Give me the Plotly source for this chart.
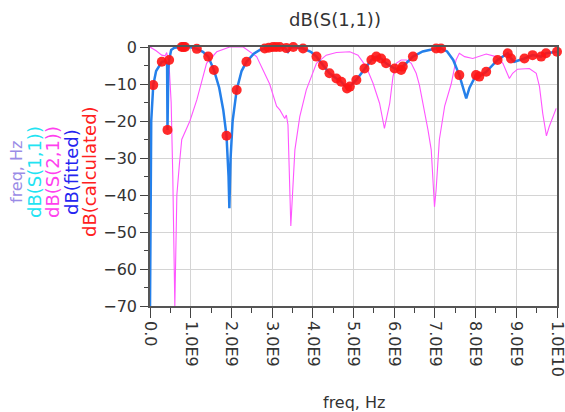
import plotly.graph_objects as go

# Frequencies in GHz (converted to Hz for the axis)
fit_f = [0.0, 0.01, 0.03, 0.08, 0.15, 0.29, 0.38, 0.42, 0.43, 0.45, 0.47, 0.52, 0.6, 0.78, 0.86, 1.0,
         1.15, 1.3, 1.43, 1.57, 1.7, 1.8, 1.88, 1.93, 1.95, 1.98, 2.03, 2.13, 2.25, 2.37, 2.55, 2.7,
         2.82, 3.02, 3.19, 3.32, 3.39, 3.45, 3.52, 3.76, 3.95, 4.09, 4.25, 4.41, 4.58, 4.70, 4.84,
         4.91, 5.07, 5.27, 5.44, 5.56, 5.68, 5.80, 6.01, 6.17, 6.21, 6.46, 6.7, 7.03, 7.15, 7.3,
         7.45, 7.6, 7.7, 7.77, 7.85, 8.01, 8.09, 8.26, 8.54, 8.79, 8.87, 8.95, 9.2, 9.4, 9.61, 9.73, 10.0]
fit_db = [-70, -40, -20, -10.3, -6.5, -4.0, -3.8, -4.5, -22.4, -6, -3.5, -0.8, -0.2, 0, 0, -0.1,
          -0.5, -1.3, -2.6, -6.2, -11, -17, -24, -35, -43.6, -30, -20, -11.6, -6.5, -4.0, -1.8, -0.8,
          -0.4, 0, 0, -0.3, -1.3, -0.3, 0, -0.4, -1.3, -2.6, -4.9, -7.1, -8.5, -9.4, -11.2,
          -10.7, -8.9, -5.8, -3.5, -2.6, -3.1, -4.4, -5.8, -6.2, -5.3, -2.6, -1.2, -0.4, -0.4, -1.2,
          -3.5, -7.6, -11, -13.9, -11, -7.6, -8.0, -6.7, -3.5, -1.7, -3.1, -4.0, -3.1, -2.2, -2.6, -1.7, -1.3]

calc_f = [0.08, 0.29, 0.43, 0.47, 0.78, 0.82, 0.86, 1.15, 1.43, 1.57, 1.88, 2.13, 2.37, 2.82, 2.92,
          3.02, 3.1, 3.19, 3.35, 3.52, 3.76, 4.09, 4.25, 4.41, 4.58, 4.70, 4.84, 4.91, 5.07, 5.27,
          5.44, 5.56, 5.68, 5.80, 6.01, 6.17, 6.21, 6.46, 7.03, 7.15, 7.6, 8.01, 8.09, 8.26, 8.54,
          8.79, 8.87, 9.2, 9.4, 9.61, 9.73, 10.0]
calc_db = [-10.3, -4.0, -22.4, -3.5, 0, 0, 0, -0.5, -2.6, -6.2, -24, -11.6, -4.0, -0.4, -0.2,
           0, 0, 0, -0.3, 0, -0.4, -2.6, -4.9, -7.1, -8.5, -9.4, -11.2, -10.7, -8.9, -5.8,
           -3.5, -2.6, -3.1, -4.4, -5.8, -6.2, -5.3, -2.6, -0.4, -0.4, -7.6, -7.6, -8.0, -6.7, -3.5,
           -1.7, -3.1, -3.1, -2.2, -2.6, -1.7, -1.3]

s21_f = [0.0, 0.15, 0.29, 0.37, 0.41, 0.47, 0.52, 0.56, 0.61, 0.66, 0.72, 0.78, 0.98, 1.15, 1.39,
         1.64, 1.96, 2.29, 2.62, 2.94, 3.11, 3.19, 3.31, 3.35, 3.39, 3.46, 3.56, 3.68, 3.84, 4.09,
         4.33, 4.58, 4.91, 5.11, 5.31, 5.48, 5.64, 5.76, 5.89, 5.97, 6.05, 6.17, 6.3, 6.42, 6.54,
         6.62, 6.83, 6.91, 6.99, 7.03, 7.11, 7.24, 7.4, 7.52, 7.6, 7.73, 7.93, 8.26, 8.5, 8.67,
         8.83, 8.91, 9.03, 9.32, 9.49, 9.57, 9.65, 9.74, 9.81, 9.98]
s21_db = [0, -1.0, -2.2, -2.4, -1.5, -5, -15, -35, -70, -40, -32, -25, -20, -14.3, -4.4,
          -1.3, 0, 0, -2.6, -10, -16, -17, -19.3, -18.4, -21, -48.4, -27.8, -18.8, -11.6, -4.4,
          -2.2, -1.5, -1.3, -2.2, -5.3, -9.8, -15.2, -22, -15.2, -8, -4.4, -3.5, -3.5, -4.4, -7.1,
          -10.3, -22.4, -27.8, -43.2, -38.6, -25, -16, -10, -3.5, -1.7, -2.6, -3.1, -1.9, -2.6, -4.4,
          -8.5, -7.1, -6.0, -5.8, -7.1, -10.7, -18, -24, -21.5, -16.6]

x_ticks = [0, 1, 2, 3, 4, 5, 6, 7, 8, 9, 10]
x_tick_text = ["0.0", "1.0E9", "2.0E9", "3.0E9", "4.0E9", "5.0E9", "6.0E9", "7.0E9", "8.0E9", "9.0E9", "1.0E10"]
y_ticks = [0, -10, -20, -30, -40, -50, -60, -70]

FONT = "DejaVu Sans, sans-serif"
TICKFONT = dict(family=FONT, size=16, color="#333333")

fig = go.Figure()
fig.add_trace(go.Scatter(x=[f * 1e9 for f in s21_f], y=s21_db, mode="lines",
                         line=dict(color="#FF55FF", width=1.1), name="dB(S(2,1))"))
fig.add_trace(go.Scatter(x=[f * 1e9 for f in fit_f], y=fit_db, mode="lines",
                         line=dict(color="#2580EA", width=2.5), name="dB(fitted)"))
fig.add_trace(go.Scatter(x=[f * 1e9 for f in calc_f], y=calc_db, mode="markers",
                         marker=dict(color="rgba(255,20,20,0.9)", size=10, line=dict(width=0)),
                         cliponaxis=False, name="dB(calculated)"))

axis_common = dict(showline=True, linecolor="#555555", linewidth=1.5, mirror=True,
                   showgrid=True, gridcolor="#D4D4D4", gridwidth=1, zeroline=False,
                   ticks="outside", tickcolor="#444444", tickfont=TICKFONT, automargin=False,
                   ticklabeloverflow="allow")

fig.update_xaxes(range=[0, 1e10], tickvals=[v * 1e9 for v in x_ticks], ticktext=x_tick_text,
                 tickangle=90, ticklen=10,
                 minor=dict(dtick=0.5e9, tick0=0, ticklen=5, ticks="outside", tickcolor="#444444", showgrid=False),
                 **axis_common)
fig.update_yaxes(range=[-70, 0], tickvals=y_ticks, ticklen=8,
                 minor=dict(dtick=5, tick0=0, ticklen=4, ticks="outside", tickcolor="#444444", showgrid=False),
                 **axis_common)

W, H = 565, 412
L, R, T, B = 150, 8, 47, 106
pw, ph = W - L - R, H - T - B

def px_x(px):
    return (px - L) / pw

def px_y(py):
    return (H - B - py) / ph

annotations = [
    dict(text="dB(S(1,1))", x=px_x(335), y=px_y(20), font=dict(family=FONT, size=18, color="#333333")),
    dict(text="freq, Hz", x=px_x(354), y=px_y(402), font=dict(family=FONT, size=16, color="#333333")),
]
side = [("freq, Hz", 16, "#9A8CE6", 16), ("dB(S(1,1))", 34, "#22E3F2", 18), ("dB(S(2,1))", 52, "#FF40EE", 18),
        ("dB(fitted)", 71, "#2424F0", 18), ("dB(calculated)", 89, "#FF2020", 18)]
for txt, xp, col, sz in side:
    annotations.append(dict(text=txt, x=px_x(xp), y=px_y(172), textangle=-90,
                            font=dict(family=FONT, size=sz, color=col)))
for a in annotations:
    a.update(xref="paper", yref="paper", showarrow=False, xanchor="center", yanchor="middle")

fig.update_layout(width=W, height=H, margin=dict(l=L, r=R, t=T, b=B),
                  paper_bgcolor="white", plot_bgcolor="white", showlegend=False,
                  annotations=annotations)

page_fix = ("document.body.style.margin='0';document.body.style.overflow='hidden';"
            "document.documentElement.style.overflow='hidden';")
fig.write_html("out.html", post_script=page_fix, config={"displayModeBar": False})
